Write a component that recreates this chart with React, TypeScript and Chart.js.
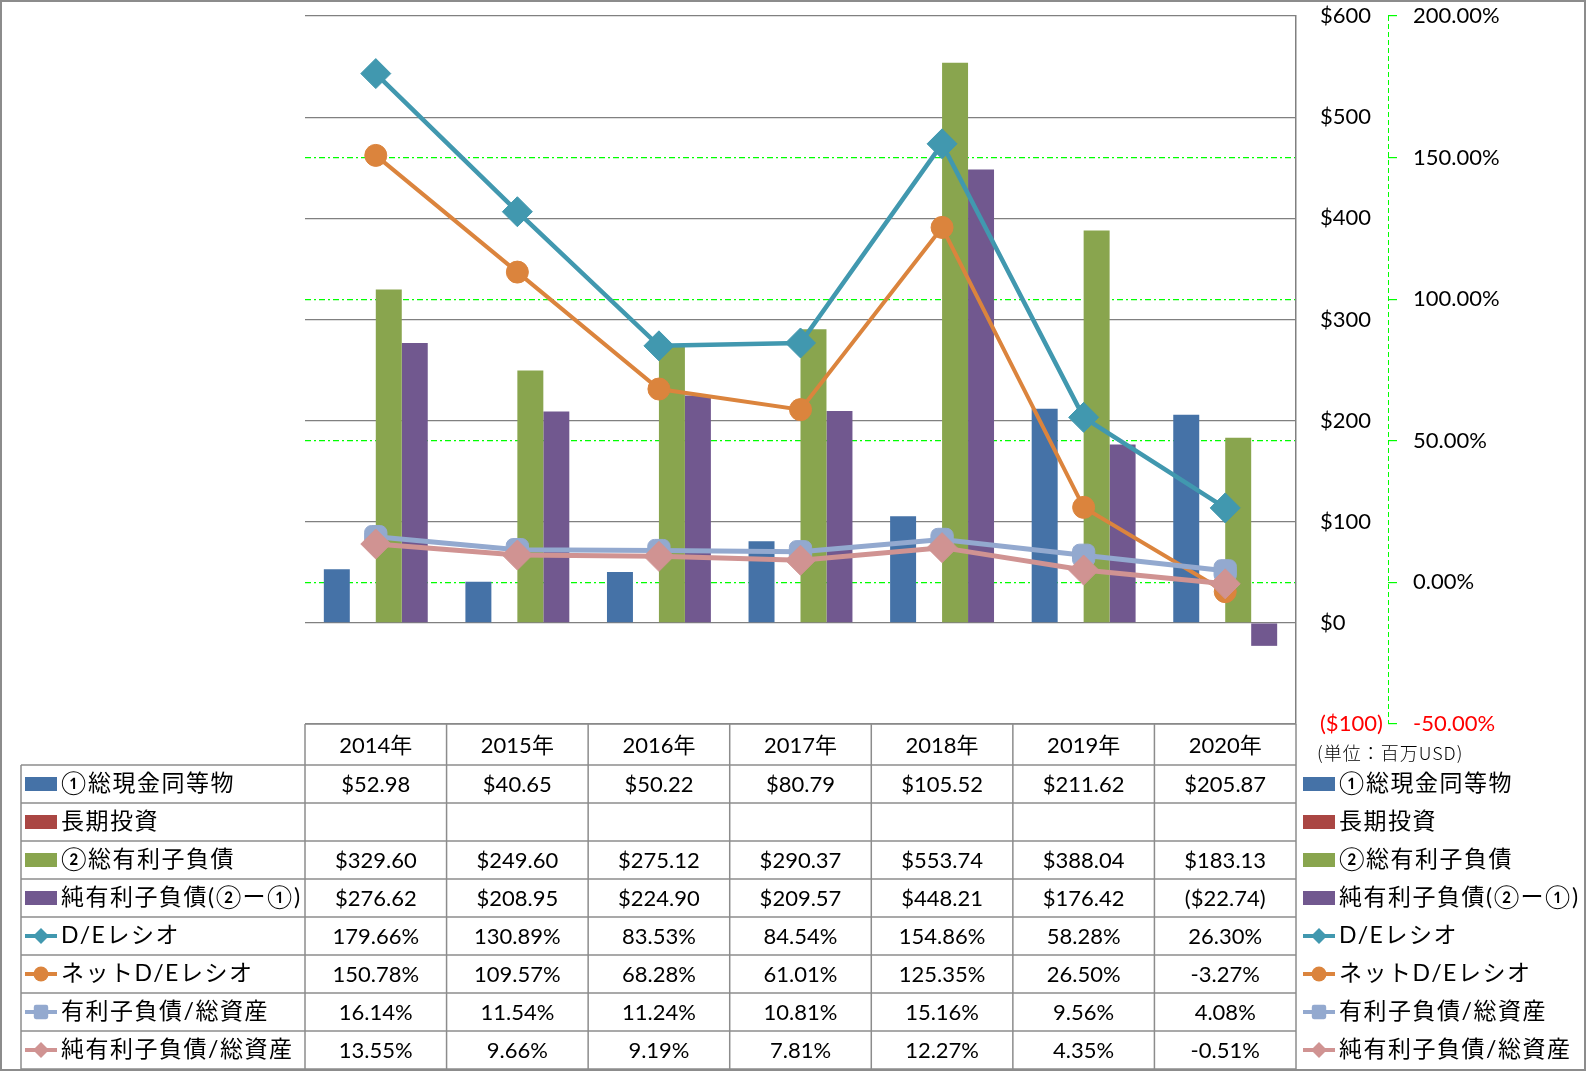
import React, { useEffect, useRef } from "react";
import { Chart, registerables } from "chart.js";

Chart.register(...registerables);

// ---------- data ----------
const categories = ["2014年", "2015年", "2016年", "2017年", "2018年", "2019年", "2020年"];
const cashEquivalents = [52.98, 40.65, 50.22, 80.79, 105.52, 211.62, 205.87];
const longTermInvestments: (number | null)[] = [null, null, null, null, null, null, null];
const interestBearingDebt = [329.6, 249.6, 275.12, 290.37, 553.74, 388.04, 183.13];
const netInterestBearingDebt = [276.62, 208.95, 224.9, 209.57, 448.21, 176.42, -22.74];
const deRatio = [179.66, 130.89, 83.53, 84.54, 154.86, 58.28, 26.3];
const netDeRatio = [150.78, 109.57, 68.28, 61.01, 125.35, 26.5, -3.27];
const debtToAssets = [16.14, 11.54, 11.24, 10.81, 15.16, 9.56, 4.08];
const netDebtToAssets = [13.55, 9.66, 9.19, 7.81, 12.27, 4.35, -0.51];

const seriesNames = [
  "①総現金同等物",
  "長期投資",
  "②総有利子負債",
  "純有利子負債(②ー①)",
  "D/Eレシオ",
  "ネットD/Eレシオ",
  "有利子負債/総資産",
  "純有利子負債/総資産",
];
const unitLabel = "(単位：百万USD)";
const usdAxis = { min: -100, max: 600, step: 100 };
const pctAxis = { min: -50, max: 200, step: 50 };

// ---------- styles ----------
const W = 1586;
const H = 1071;
const BLUE = "#4572A7";
const RED = "#AA4643";
const GREEN = "#89A54E";
const PURPLE = "#71588F";
const TEAL = "#4198AF";
const ORANGE = "#DB843D";
const LIGHTBLUE = "#93A9CF";
const PINK = "#D09392";
const GRID = "#808080";
const TABLE_LINE = "#8c8c8c";
const LATIN = "Lato, 'Noto Sans CJK JP', sans-serif";
const CJK = "'Noto Sans CJK JP', sans-serif";

const fmtUsd = (v: number | null) =>
  v == null ? "" : v < 0 ? `($${(-v).toFixed(2)})` : `$${v.toFixed(2)}`;
const fmtPct = (v: number | null) => (v == null ? "" : `${v.toFixed(2)}%`);

type Row = { name: string; data: (number | null)[]; fmt: (v: number | null) => string; kind: "bar" | "line"; color: string; shape?: string };
const rows: Row[] = [
  { name: seriesNames[0], data: cashEquivalents, fmt: fmtUsd, kind: "bar", color: BLUE },
  { name: seriesNames[1], data: longTermInvestments, fmt: fmtUsd, kind: "bar", color: RED },
  { name: seriesNames[2], data: interestBearingDebt, fmt: fmtUsd, kind: "bar", color: GREEN },
  { name: seriesNames[3], data: netInterestBearingDebt, fmt: fmtUsd, kind: "bar", color: PURPLE },
  { name: seriesNames[4], data: deRatio, fmt: fmtPct, kind: "line", color: TEAL, shape: "rectRot" },
  { name: seriesNames[5], data: netDeRatio, fmt: fmtPct, kind: "line", color: ORANGE, shape: "circle" },
  { name: seriesNames[6], data: debtToAssets, fmt: fmtPct, kind: "line", color: LIGHTBLUE, shape: "rectRounded" },
  { name: seriesNames[7], data: netDebtToAssets, fmt: fmtPct, kind: "line", color: PINK, shape: "rectRot" },
];

function drawMarker(ctx: CanvasRenderingContext2D, shape: string, cx: number, cy: number, r: number, color: string) {
  ctx.fillStyle = color;
  ctx.beginPath();
  if (shape === "circle") {
    ctx.arc(cx, cy, r, 0, Math.PI * 2);
  } else if (shape === "rectRot") {
    ctx.moveTo(cx - r, cy);
    ctx.lineTo(cx, cy - r);
    ctx.lineTo(cx + r, cy);
    ctx.lineTo(cx, cy + r);
    ctx.closePath();
  } else {
    const s = r * 0.9;
    (ctx as any).roundRect(cx - s, cy - s, 2 * s, 2 * s, s * 0.3);
  }
  ctx.fill();
}

function drawKey(ctx: CanvasRenderingContext2D, row: Row, x0: number, cy: number) {
  if (row.kind === "bar") {
    ctx.fillStyle = row.color;
    ctx.fillRect(x0, cy - 7, 32, 14);
  } else {
    ctx.strokeStyle = row.color;
    ctx.lineWidth = 4;
    ctx.beginPath();
    ctx.moveTo(x0, cy);
    ctx.lineTo(x0 + 32, cy);
    ctx.stroke();
    const r = row.shape === "circle" ? 7.5 : 8;
    drawMarker(ctx, row.shape || "circle", x0 + 16, cy, r, row.color);
  }
}

const tablePlugin = {
  id: "dataTable",
  afterDraw(chart: any) {
    const ctx: CanvasRenderingContext2D = chart.ctx;
    const area = chart.chartArea;
    const xs = chart.scales.x;
    const y2 = chart.scales.y2;
    const L = area.left;
    const R = area.right;
    const top = area.bottom;
    const headerH = 41;
    const rowH = 38;
    const legendLeft = 21;
    const rowsTop = top + headerH;
    const bottom = rowsTop + rows.length * rowH;
    const n = categories.length;
    const colW = (R - L) / n;

    ctx.save();
    // dashed secondary axis line
    ctx.strokeStyle = "#00FF00";
    ctx.lineWidth = 1;
    ctx.setLineDash([5, 3]);
    ctx.beginPath();
    ctx.moveTo(Math.round(y2.left) + 0.5, area.top);
    ctx.lineTo(Math.round(y2.left) + 0.5, area.bottom);
    ctx.stroke();
    ctx.setLineDash([]);

    ctx.strokeStyle = TABLE_LINE;
    ctx.lineWidth = 1.5;
    const line = (x1: number, y1: number, x2: number, y2_: number) => {
      ctx.beginPath();
      ctx.moveTo(x1, y1);
      ctx.lineTo(x2, y2_);
      ctx.stroke();
    };
    line(L, top, R, top);
    for (let i = 0; i <= rows.length; i++) line(legendLeft, rowsTop + i * rowH, R, rowsTop + i * rowH);
    line(legendLeft, rowsTop, legendLeft, bottom);
    for (let c = 0; c <= n; c++) line(L + c * colW, top, L + c * colW, bottom);

    // header
    ctx.fillStyle = "#000";
    ctx.textAlign = "center";
    ctx.textBaseline = "middle";
    ctx.font = `22px ${LATIN}`;
    categories.forEach((cat, i) => {
      ctx.fillText(cat, xs.getPixelForValue(i), top + headerH / 2 + 1);
    });
    // cells
    rows.forEach((row, r) => {
      const cy = rowsTop + r * rowH + rowH / 2;
      ctx.fillStyle = "#000";
      ctx.textAlign = "center";
      ctx.font = `22px ${LATIN}`;
      row.data.forEach((v, i) => {
        ctx.fillText(row.fmt(v), xs.getPixelForValue(i), cy + 1);
      });
      drawKey(ctx, row, 25, cy);
      drawKey(ctx, row, R + 7, cy);
      ctx.fillStyle = "#000";
      ctx.textAlign = "left";
      ctx.font = `23px ${LATIN}`;
      (ctx as any).letterSpacing = "1.5px";
      ctx.fillText(row.name, 61, cy);
      ctx.fillText(row.name, R + 43, cy);
      (ctx as any).letterSpacing = "0px";
    });

    // unit label
    ctx.fillStyle = "#000";
    ctx.textAlign = "left";
    ctx.font = `300 18px ${CJK}`;
    (ctx as any).letterSpacing = "1px";
    ctx.fillText(unitLabel, R + 21, top + 29);
    (ctx as any).letterSpacing = "0px";

    // outer frame
    ctx.strokeStyle = TABLE_LINE;
    ctx.lineWidth = 2;
    ctx.strokeRect(1, 1, W - 2, H - 2);
    ctx.restore();
  },
};

export default function App() {
  const canvasRef = useRef<HTMLCanvasElement | null>(null);

  useEffect(() => {
    document.body.style.margin = "0";
    const canvas = canvasRef.current;
    if (!canvas) return;
    const lineDs = (label: string, data: number[], color: string, style: string, radius: number, width: number, order: number) => ({
      type: "line" as const,
      label,
      data,
      borderColor: color,
      backgroundColor: color,
      borderWidth: width,
      pointStyle: style,
      pointRadius: radius,
      pointBackgroundColor: color,
      pointBorderColor: color,
      pointBorderWidth: 1,
      yAxisID: "y2",
      order,
      tension: 0,
    });
    const barDs = (label: string, data: (number | null)[], color: string) => ({
      type: "bar" as const,
      label,
      data,
      backgroundColor: color,
      borderWidth: 0,
      yAxisID: "y",
      order: 10,
      categoryPercentage: 0.734,
      barPercentage: 1,
    });

    const chart = new Chart(canvas, {
      type: "bar",
      data: {
        labels: categories,
        datasets: [
          barDs(seriesNames[0], cashEquivalents, BLUE),
          barDs(seriesNames[1], longTermInvestments, RED),
          barDs(seriesNames[2], interestBearingDebt, GREEN),
          barDs(seriesNames[3], netInterestBearingDebt, PURPLE),
          lineDs(seriesNames[4], deRatio, TEAL, "rectRot", 15, 4.5, 4),
          lineDs(seriesNames[5], netDeRatio, ORANGE, "circle", 11, 4, 3),
          lineDs(seriesNames[6], debtToAssets, LIGHTBLUE, "rectRounded", 13, 5, 2),
          lineDs(seriesNames[7], netDebtToAssets, PINK, "rectRot", 15, 5, 1),
        ] as any,
      },
      options: {
        animation: false,
        responsive: false,
        devicePixelRatio: 1,
        layout: { padding: { left: 305, top: 15, bottom: 347, right: 0 } },
        plugins: { legend: { display: false }, tooltip: { enabled: false } },
        scales: {
          x: { display: false, offset: true, grid: { display: false } },
          y: {
            position: "right",
            min: usdAxis.min,
            max: usdAxis.max,
            ticks: {
              stepSize: usdAxis.step,
              padding: 24,
              color: (c: any) => (c.tick && c.tick.value < 0 ? "#FF0000" : "#000"),
              font: { family: LATIN, size: 22 },
              callback: (v: any) => (Number(v) < 0 ? `($${-Number(v)})` : `$${v}`),
            },
            grid: { color: GRID, lineWidth: 1.2, drawTicks: false },
            border: { display: true, color: GRID, width: 1.5 },
            afterFit: (s: any) => {
              s.width = 92;
              s.paddingTop = 0;
              s.paddingBottom = 0;
            },
          },
          y2: {
            position: "right",
            min: pctAxis.min,
            max: pctAxis.max,
            ticks: {
              stepSize: pctAxis.step,
              padding: 16,
              color: (c: any) => (c.tick && c.tick.value < 0 ? "#FF0000" : "#000"),
              font: { family: LATIN, size: 22 },
              callback: (v: any) => `${Number(v).toFixed(2)}%`,
            },
            grid: {
              color: (c: any) =>
                c.tick && (c.tick.value === pctAxis.max || c.tick.value === pctAxis.min) ? "rgba(0,0,0,0)" : "#00FF00",
              lineWidth: 1.2,
              drawTicks: true,
              tickLength: 9,
              tickColor: "#00FF00",
              tickBorderDash: [],
            },
            border: { display: false, color: "#00FF00", width: 1, dash: [6, 3, 2, 3] },
            afterFit: (s: any) => {
              s.width = 198;
              s.paddingTop = 0;
              s.paddingBottom = 0;
            },
          },
        },
      } as any,
      plugins: [tablePlugin],
    });
    return () => chart.destroy();
  }, []);

  return (
    <div style={{ width: W, height: H, position: "relative", background: "#fff" }}>
      <canvas ref={canvasRef} width={W} height={H} style={{ display: "block", width: W, height: H }} />
    </div>
  );
}
